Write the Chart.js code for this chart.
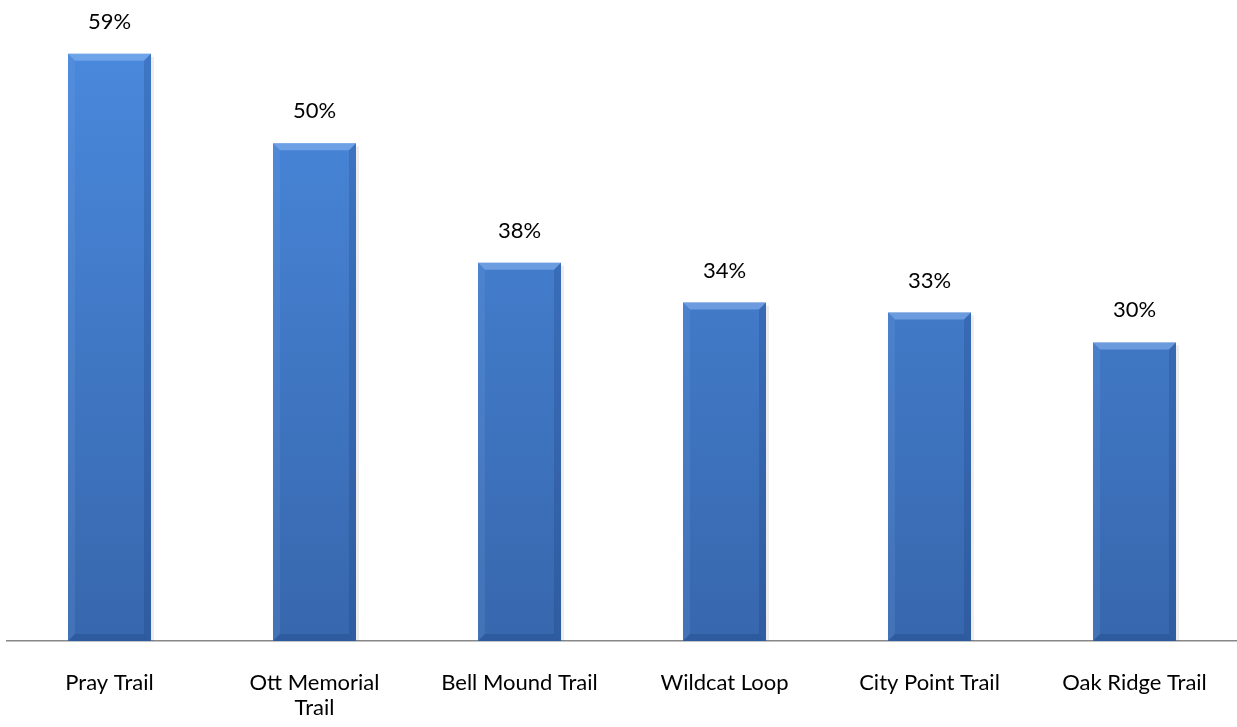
<!DOCTYPE html>
<html>
<head>
<meta charset="utf-8">
<script src="https://cdn.jsdelivr.net/npm/chart.js@4"></script>
<style>
  html, body { margin: 0; padding: 0; background: #fff; }
  #wrap { width: 1237px; height: 727px; position: relative; }
</style>
</head>
<body>
<div id="wrap"><canvas id="trailChart"></canvas></div>
<script>
const trails = ['Pray Trail', ['Ott Memorial', 'Trail'], 'Bell Mound Trail', 'Wildcat Loop', 'City Point Trail', 'Oak Ridge Trail'];
const shares = [59, 50, 38, 34, 33, 30];
const labelText = shares.map(v => v + '%');

const FONT = 'Lato, "Open Sans", sans-serif';

// bevel + shadow on each bar, read from the bar elements chart.js laid out
const bevelBars = {
    id: 'bevelBars',
    afterDatasetsDraw(chart) {
        const ctx = chart.ctx;
        const meta = chart.getDatasetMeta(0);
        meta.data.forEach((bar, i) => {
            const left = bar.x - bar.width / 2;
            const right = bar.x + bar.width / 2;
            const top = bar.y;
            const bottom = bar.base;
            const b = 7;
            ctx.save();
            // top bevel
            ctx.fillStyle = 'rgba(150,190,245,0.5)';
            ctx.beginPath();
            ctx.moveTo(left, top); ctx.lineTo(right, top);
            ctx.lineTo(right - b, top + b); ctx.lineTo(left + b, top + b);
            ctx.closePath(); ctx.fill();
            // left side
            ctx.fillStyle = 'rgba(120,165,230,0.18)';
            ctx.beginPath();
            ctx.moveTo(left, top); ctx.lineTo(left + b, top + b);
            ctx.lineTo(left + b, bottom - b); ctx.lineTo(left, bottom);
            ctx.closePath(); ctx.fill();
            // right side
            ctx.fillStyle = 'rgba(20,50,110,0.2)';
            ctx.beginPath();
            ctx.moveTo(right, top); ctx.lineTo(right - b, top + b);
            ctx.lineTo(right - b, bottom - b); ctx.lineTo(right, bottom);
            ctx.closePath(); ctx.fill();
            // bottom
            ctx.fillStyle = 'rgba(20,50,110,0.22)';
            ctx.beginPath();
            ctx.moveTo(left, bottom); ctx.lineTo(left + b, bottom - b);
            ctx.lineTo(right - b, bottom - b); ctx.lineTo(right, bottom);
            ctx.closePath(); ctx.fill();
            // soft shadow to the right
            ctx.fillStyle = 'rgba(0,0,0,0.07)';
            ctx.fillRect(right, top + 3, 3, bottom - top - 3);
            ctx.restore();

            // value label above the bar
            ctx.save();
            ctx.fillStyle = '#000';
            ctx.font = '22px ' + FONT;
            ctx.textAlign = 'center';
            ctx.textBaseline = 'middle';
            ctx.fillText(labelText[i], bar.x, top - 32);
            ctx.restore();
        });
    }
};

const canvas = document.getElementById('trailChart');
new Chart(canvas, {
    type: 'bar',
    data: {
        labels: trails,
        datasets: [{
            data: shares,
            backgroundColor: (c) => {
                const area = c.chart.chartArea;
                if (!area) return '#4080d8';
                const g = c.chart.ctx.createLinearGradient(0, area.top, 0, area.bottom);
                g.addColorStop(0, '#4b8be0');
                g.addColorStop(1, '#3767ad');
                return g;
            },
            borderWidth: 0,
            categoryPercentage: 1,
            barPercentage: 0.405
        }]
    },
    options: {
        responsive: true,
        maintainAspectRatio: false,
        animation: false,
        layout: { padding: { top: 0, left: 7, right: 0, bottom: 0 } },
        plugins: {
            legend: { display: false },
            tooltip: { enabled: false }
        },
        scales: {
            y: {
                display: false,
                min: 0,
                max: 64.4
            },
            x: {
                grid: { display: false, drawTicks: false },
                border: { display: true, color: '#888', width: 1.5 },
                ticks: {
                    color: '#000',
                    padding: 29,
                    maxRotation: 0,
                    autoSkip: false,
                    font: { family: FONT, size: 22, lineHeight: 1.14 }
                },
                afterFit(scale) { scale.height = 86; }
            }
        }
    },
    plugins: [bevelBars]
});
</script>
</body>
</html>
